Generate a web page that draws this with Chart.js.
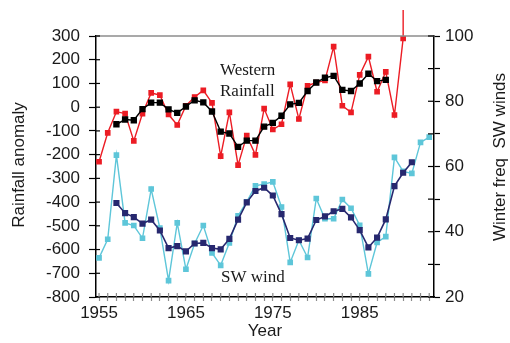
<!DOCTYPE html>
<html>
<head>
<meta charset="utf-8">
<script src="https://cdn.jsdelivr.net/npm/chart.js@4.4.1/dist/chart.umd.min.js"></script>
<style>
  html, body { margin: 0; padding: 0; background: #fff; }
  #wrap { width: 510px; height: 343px; }
</style>
</head>
<body>
<div id="wrap"><canvas id="chart" width="510" height="343"></canvas></div>
<script>
// Western rainfall anomaly (annual + smoothed) and winter SW wind frequency.
const rainYears = [1955, 1956, 1957, 1958, 1959, 1960, 1961, 1962, 1963, 1964,
  1965, 1966, 1967, 1968, 1969, 1970, 1971, 1972, 1973, 1974, 1975, 1976, 1977,
  1978, 1979, 1980, 1981, 1982, 1983, 1984, 1985, 1986, 1987, 1988, 1989, 1990];
const rainAnnual = [-230, -108, -19, -27, -142, -27, 60, 51, -31, -75,
  6, 43, 71, 18, -206, -22, -244, -120, -201, -6, -94, -72, 96,
  -50, 90, 104, 113, 255, 6, -22, 136, 213, 65, 149, -33, 290];
// the 1990 value runs off the top of the chart
const rainOffScale = [290, 410];

const smoothYears = [1957, 1958, 1959, 1960, 1961, 1962, 1963, 1964, 1965, 1966,
  1967, 1968, 1969, 1970, 1971, 1972, 1973, 1974, 1975, 1976, 1977, 1978, 1979,
  1980, 1981, 1982, 1983, 1984, 1985, 1986, 1987, 1988];
const rainSmooth = [-72, -52, -55, -8, 19, 19, -9, -24, 3, 29,
  20, -18, -103, -111, -167, -141, -141, -82, -66, -36, 12, 18, 68,
  104, 124, 132, 73, 68, 100, 141, 110, 115];

const windYears = [1955, 1956, 1957, 1958, 1959, 1960, 1961, 1962, 1963, 1964,
  1965, 1966, 1967, 1968, 1969, 1970, 1971, 1972, 1973, 1974, 1975, 1976, 1977,
  1978, 1979, 1980, 1981, 1982, 1983, 1984, 1985, 1986, 1987, 1988, 1989, 1990,
  1991, 1992, 1993];
const windAnnual = [32.0, 37.7, 63.5, 42.7, 41.9, 38.0, 53.1, 41.1, 25.0, 42.7,
  28.5, 36.4, 41.9, 33.5, 29.7, 36.6, 44.9, 49.2, 54.1, 54.6, 55.3, 47.6, 30.6,
  37.4, 32.1, 50.2, 44.0, 44.0, 49.9, 47.2, 42.0, 27.1, 36.7, 38.5, 62.8, 58.5,
  57.9, 67.4, 69.0];

const windSmoothYears = [1957, 1958, 1959, 1960, 1961, 1962, 1963, 1964, 1965,
  1966, 1967, 1968, 1969, 1970, 1971, 1972, 1973, 1974, 1975, 1976, 1977, 1978,
  1979, 1980, 1981, 1982, 1983, 1984, 1985, 1986, 1987, 1988, 1989, 1990, 1991];
const windSmooth = [48.8, 45.7, 44.5, 42.5, 43.7, 40.4, 35.0, 35.6, 34.0,
  36.4, 36.6, 35.0, 34.6, 37.8, 43.7, 49.0, 52.5, 53.5, 51.1, 45.4, 38.1, 37.4,
  37.9, 43.6, 44.7, 46.3, 47.0, 44.4, 40.5, 35.2, 38.2, 43.8, 54.0, 58.1, 61.3];

const yearLabels = [1955, 1965, 1975, 1985];

const RED = "#ec1c24";
const CYAN = "#5ec6d9";
const NAVY = "#27286f";
const SANS = "'Liberation Sans', Arial, sans-serif";
const SERIF = "'Liberation Serif', 'Times New Roman', serif";

const pts = (xs, ys) => xs.map((x, i) => ({ x: x, y: ys[i] }));

// inner half of the crossing tick marks, axis titles and in-plot labels
const decor = {
  id: "decor",
  afterDraw(chart) {
    const { ctx, chartArea: a, scales } = chart;
    ctx.save();
    // top frame line
    ctx.strokeStyle = "#8c8c8c";
    ctx.lineWidth = 1.5;
    ctx.beginPath();
    ctx.moveTo(a.left, a.top);
    ctx.lineTo(a.right, a.top);
    ctx.stroke();

    ctx.lineWidth = 1.2;
    ctx.strokeStyle = "#000";
    scales.y.ticks.forEach(t => {
      const p = scales.y.getPixelForValue(t.value);
      ctx.beginPath(); ctx.moveTo(a.left, p); ctx.lineTo(a.left + 4, p); ctx.stroke();
    });
    scales.y2.ticks.forEach(t => {
      const p = scales.y2.getPixelForValue(t.value);
      ctx.beginPath(); ctx.moveTo(a.right, p); ctx.lineTo(a.right - 6, p); ctx.stroke();
    });
    ctx.strokeStyle = "#8c8c8c";
    scales.x.ticks.forEach(t => {
      const p = scales.x.getPixelForValue(t.value);
      ctx.beginPath(); ctx.moveTo(p, a.bottom); ctx.lineTo(p, a.bottom - 4); ctx.stroke();
    });

    ctx.fillStyle = "#1a1a1a";
    ctx.font = "17px " + SANS;
    ctx.textAlign = "center";
    ctx.textBaseline = "middle";
    ctx.fillText("Year", 265, 331);
    ctx.save();
    ctx.translate(19, 165);
    ctx.rotate(-Math.PI / 2);
    ctx.fillText("Rainfall anomaly", 0, 0);
    ctx.restore();
    ctx.save();
    ctx.translate(500, 157);
    ctx.rotate(-Math.PI / 2);
    ctx.fillText("Winter freq  SW winds", 0, 0);
    ctx.restore();

    ctx.font = "17px " + SERIF;
    ctx.textAlign = "left";
    ctx.textBaseline = "alphabetic";
    ctx.fillText("Western", 220, 75);
    ctx.fillText("Rainfall", 220, 96);
    ctx.fillText("SW wind", 221, 282);
    ctx.restore();
  }
};

const ctx = document.getElementById("chart").getContext("2d");

new Chart(ctx, {
  type: "line",
  data: {
    datasets: [
      {
        label: "Western rainfall",
        data: pts(rainYears, rainAnnual),
        yAxisID: "y",
        borderColor: RED,
        backgroundColor: RED,
        borderWidth: 1.4,
        pointStyle: "rect",
        pointRadius: 3,
        order: 4,
      },
      {
        label: "Western rainfall (off scale)",
        data: pts([1990, 1990], rainOffScale),
        yAxisID: "y",
        borderColor: RED,
        borderWidth: 1.4,
        pointRadius: 0,
        clip: false,
        order: 4,
      },
      {
        label: "Western rainfall smoothed",
        data: pts(smoothYears, rainSmooth),
        yAxisID: "y",
        borderColor: "#000",
        backgroundColor: "#000",
        borderWidth: 1.4,
        pointStyle: "rect",
        pointRadius: 3.5,
        order: 3,
      },
      {
        label: "SW wind",
        data: pts(windYears, windAnnual),
        yAxisID: "y2",
        borderColor: CYAN,
        backgroundColor: CYAN,
        borderWidth: 1.4,
        pointStyle: "rect",
        pointRadius: 3,
        order: 2,
      },
      {
        label: "SW wind smoothed",
        data: pts(windSmoothYears, windSmooth),
        yAxisID: "y2",
        borderColor: NAVY,
        backgroundColor: NAVY,
        borderWidth: 1.6,
        pointStyle: "rect",
        pointRadius: 3.2,
        order: 1,
      },
    ],
  },
  options: {
    responsive: false,
    animation: false,
    layout: { padding: { top: 36, left: 0, right: 0, bottom: 0 } },
    plugins: {
      legend: { display: false },
      tooltip: { enabled: false },
    },
    scales: {
      x: {
        type: "linear",
        min: 1954.65,
        max: 1993.55,
        afterBuildTicks: s => { s.ticks = s.ticks.filter(t => Number.isInteger(t.value)); },
        afterFit: s => { s.height = 46; },
        ticks: {
          stepSize: 1,
          includeBounds: false,
          autoSkip: false,
          maxRotation: 0,
          padding: 2,
          color: "#1a1a1a",
          font: { family: SANS, size: 17 },
          callback: v => (yearLabels.includes(v) ? String(v) : ""),
        },
        grid: { drawOnChartArea: false, tickLength: 4, tickColor: "#8c8c8c", tickWidth: 1.2 },
        border: { color: "#000", width: 1.5 },
      },
      y: {
        position: "left",
        min: -800,
        max: 300,
        afterFit: s => { s.width = 96; },
        ticks: {
          stepSize: 50,
          padding: 9,
          color: "#1a1a1a",
          font: { family: SANS, size: 17 },
          callback: v => (v % 100 === 0 ? String(v) : ""),
        },
        grid: { drawOnChartArea: false, tickLength: 7, tickColor: "#000", tickWidth: 1.2 },
        border: { color: "#000", width: 1.5 },
      },
      y2: {
        position: "right",
        min: 20,
        max: 100,
        afterFit: s => { s.width = 76; },
        ticks: {
          stepSize: 10,
          padding: 5,
          color: "#1a1a1a",
          font: { family: SANS, size: 17 },
          callback: v => (v % 20 === 0 ? String(v) : ""),
        },
        grid: { drawOnChartArea: false, tickLength: 6, tickColor: "#000", tickWidth: 1.2 },
        border: { color: "#000", width: 1.5 },
      },
    },
  },
  plugins: [decor],
});
</script>
</body>
</html>
